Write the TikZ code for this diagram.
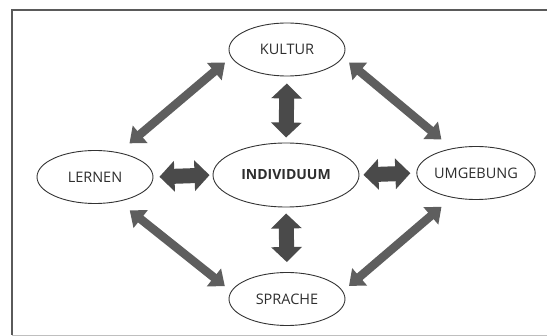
\documentclass[tikz,border=0pt]{standalone}
\usepackage{fontspec}
\setmainfont{Open Sans}
\usetikzlibrary{arrows.meta,shapes.geometric}

\definecolor{framegray}{HTML}{5A5A5A}
\definecolor{arrowdark}{HTML}{4A4A4A}
\definecolor{arrowgray}{HTML}{5E5E5E}
\definecolor{textgray}{HTML}{2E2E2E}

\tikzset{
  bubble/.style={ellipse, draw=black!80, line width=0.9pt, inner sep=0pt,
    minimum width=116pt, minimum height=53pt, text=textgray,
    font=\fontsize{14.5}{16}\selectfont},
  twoway/.style={draw=arrowdark, line width=15pt,
    {Triangle[length=15pt,width=30pt]}-{Triangle[length=15pt,width=30pt]}},
  slant/.style={draw=arrowgray, line width=8.5pt,
    {Triangle[length=14pt,width=22pt]}-{Triangle[length=14pt,width=22pt]}}
}

\begin{document}
\begin{tikzpicture}[x=1pt,y=1pt]
  \useasboundingbox (0,0) rectangle (547,-336);
  % outer frame, runs off the right and bottom edge
  \draw[framegray, line width=1.6pt] (12,-335) -- (12,-10) -- (549,-10);
  \draw[black!25, line width=0.8pt] (12,-335.5) -- (549,-335.5);

  % the five ellipses
  \node[bubble] (kultur) at (287,-49.5) {KULTUR};
  \node[bubble] (lernen) at (95,-177) {LERNEN};
  \node[bubble, minimum width=146pt, minimum height=64pt,
        font=\fontsize{14}{16}\selectfont\bfseries] (indiv) at (286,-175) {INDIVIDUUM};
  \node[bubble] (umgebung) at (476,-173) {UMGEBUNG};
  \node[bubble] (sprache) at (287,-299) {SPRACHE};

  % short arrows round the middle
  \draw[twoway, shorten <=7pt, shorten >=5pt] (kultur.south) -- (indiv.north);
  \draw[twoway, shorten <=6pt, shorten >=10pt] (indiv.south) -- (sprache.north);
  \draw[twoway, shorten <=6pt, shorten >=3pt] (lernen.east) -- (indiv.west);
  \draw[twoway, shorten <=4pt, shorten >=6pt] (indiv.east) -- (umgebung.west);

  % long arrows along the outside
  \draw[slant, shorten <=8pt, shorten >=14pt] (kultur.188) -- (lernen.46);
  \draw[slant, shorten <=8pt, shorten >=14pt] (kultur.-8) -- (umgebung.134);
  \draw[slant, shorten <=8pt, shorten >=14pt] (sprache.172) -- (lernen.-46);
  \draw[slant, shorten <=8pt, shorten >=14pt] (sprache.8) -- (umgebung.-134);
\end{tikzpicture}
\end{document}
